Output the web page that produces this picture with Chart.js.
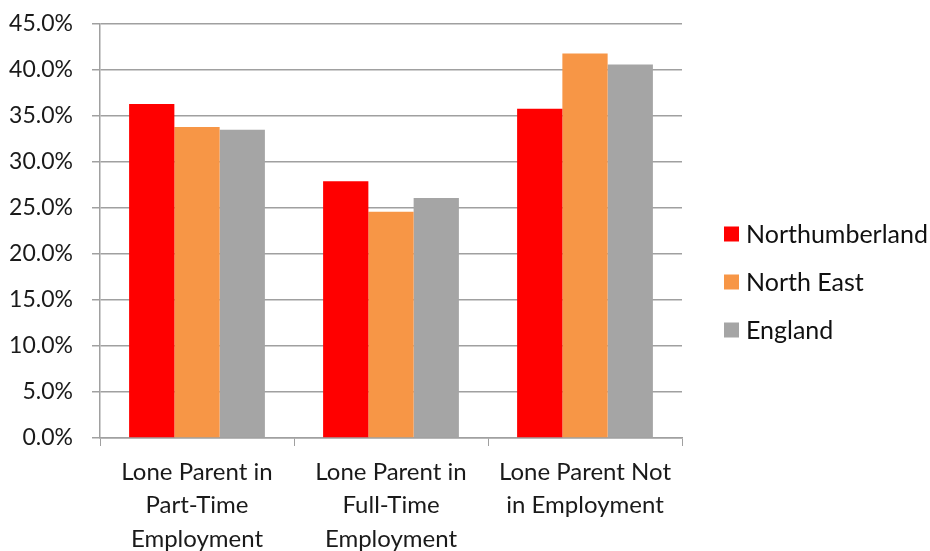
<!DOCTYPE html>
<html>
<head>
<meta charset="utf-8">
<script src="https://cdn.jsdelivr.net/npm/chart.js@4.4.0/dist/chart.umd.min.js"></script>
<style>
  html, body { margin: 0; padding: 0; background: #ffffff; }
  #wrap { width: 930px; height: 551px; }
</style>
</head>
<body>
<div id="wrap"><canvas id="loneParents" width="930" height="551"></canvas></div>
<script>
// categories and series (percent)
const categories = [
    ['Lone Parent in', 'Part-Time', 'Employment'],
    ['Lone Parent in', 'Full-Time', 'Employment'],
    ['Lone Parent Not', 'in Employment']
];
const northumberland = [36.3, 27.9, 35.8];
const northEast = [33.8, 24.6, 41.8];
const england = [33.5, 26.1, 40.6];

const yTicks = [0, 5, 10, 15, 20, 25, 30, 35, 40, 45];

const axisGrey = '#a0a0a0';
const fontFamily = 'Lato, "Open Sans", sans-serif';

// right-hand legend, laid out by hand so it can sit away from the plot
const sideLegend = {
    id: 'sideLegend',
    afterDraw(chart) {
        const c = chart.ctx;
        const x = chart.chartArea.right + 42;
        const y0 = 234;
        const step = 48;
        c.save();
        c.font = '25px ' + fontFamily;
        c.textBaseline = 'middle';
        c.textAlign = 'left';
        chart.data.datasets.forEach((ds, i) => {
            const y = y0 + i * step;
            c.fillStyle = ds.backgroundColor;
            c.fillRect(x, y - 7.5, 15, 15);
            c.fillStyle = '#111';
            c.fillText(ds.label, x + 22, y + 1);
        });
        c.restore();
    }
};

const ctx = document.getElementById('loneParents').getContext('2d');
const chart = new Chart(ctx, {
    type: 'bar',
    data: {
        labels: categories,
        datasets: [
            { label: 'Northumberland', data: northumberland, backgroundColor: '#ff0000' },
            { label: 'North East', data: northEast, backgroundColor: '#f79646' },
            { label: 'England', data: england, backgroundColor: '#a5a5a5' }
        ]
    },
    plugins: [sideLegend],
    options: {
        responsive: false,
        maintainAspectRatio: false,
        animation: false,
        layout: { padding: { top: 0, right: 248, left: 0, bottom: 0 } },
        datasets: {
            bar: { categoryPercentage: 0.7, barPercentage: 1.0 }
        },
        scales: {
            x: {
                grid: {
                    offset: true,
                    drawOnChartArea: false,
                    color: axisGrey,
                    tickLength: 8
                },
                border: { color: axisGrey, width: 1.5 },
                ticks: {
                    color: '#1a1a1a',
                    font: { family: fontFamily, size: 24, lineHeight: 1.38 },
                    padding: 10,
                    maxRotation: 0,
                    autoSkip: false
                },
                // labels run past the bottom edge, so keep the axis band fixed
                afterFit: (s) => { s.height = 113; s.paddingTop = 0; s.paddingBottom = 0; }
            },
            y: {
                min: 0,
                max: 45,
                afterBuildTicks: (axis) => { axis.ticks = yTicks.map(v => ({ value: v })); },
                grid: { color: axisGrey, lineWidth: 1.5, tickLength: 8 },
                border: { color: axisGrey, width: 1.5 },
                ticks: {
                    color: '#1a1a1a',
                    font: { family: fontFamily, size: 23 },
                    padding: 19,
                    callback: (v) => v.toFixed(1) + '%'
                },
                afterFit: (s) => { s.width = 100; s.paddingTop = 24; }
            }
        },
        plugins: {
            legend: { display: false },
            tooltip: { enabled: false }
        }
    }
});
</script>
</body>
</html>
